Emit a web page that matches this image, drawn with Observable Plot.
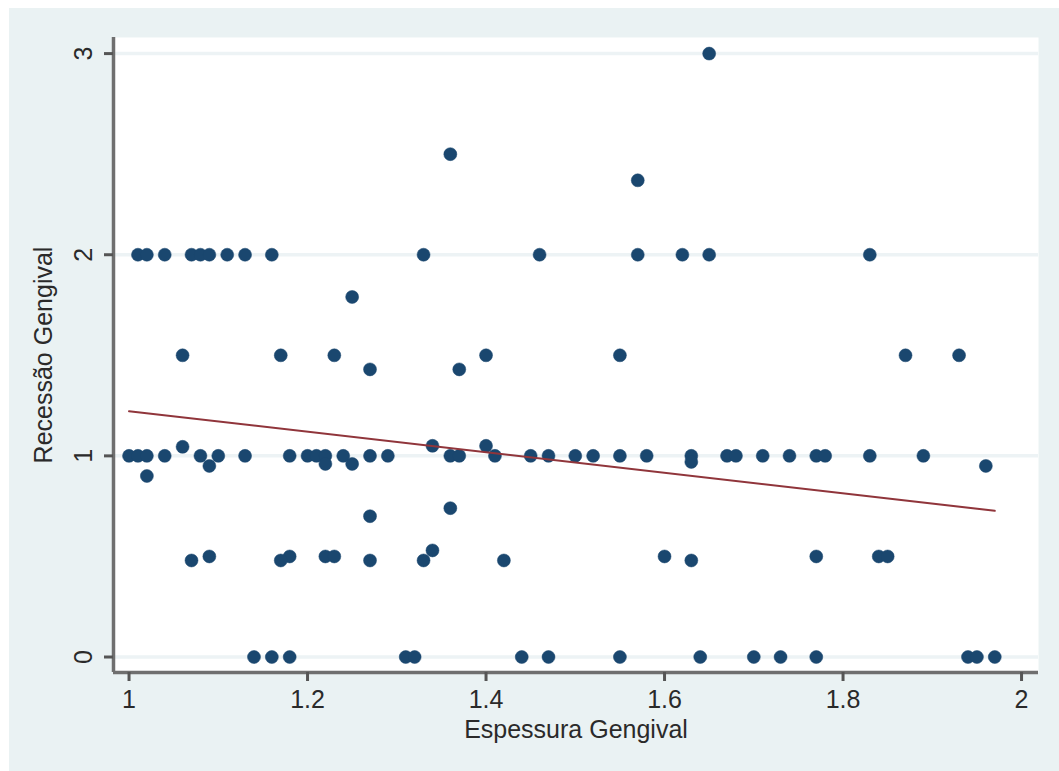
<!DOCTYPE html>
<html>
<head>
<meta charset="utf-8">
<script src="https://cdn.jsdelivr.net/npm/d3@7"></script>
<script src="https://cdn.jsdelivr.net/npm/@observablehq/plot@0.6"></script>
<style>
  html, body { margin: 0; padding: 0; background: #ffffff; }
  #chart { position: absolute; left: 9px; top: 8px; width: 1050px; height: 763px; background: #eaf2f3; }
</style>
</head>
<body>
<div id="chart"></div>
<script>
// Espessura Gengival (x) and Recessão Gengival (y)
const espessura = [
  1.01,1.02,1.04,1.07,1.08,1.09,1.11,1.13,1.16,1.33,1.46,1.57,1.62,1.65,1.83,
  1.65,1.36,1.57,1.25,
  1.06,1.17,1.23,1.40,1.55,1.87,1.93,
  1.27,1.37,1.06,1.34,1.40,
  1.00,1.01,1.02,1.04,1.08,1.10,1.13,1.18,1.20,1.21,1.22,1.24,1.27,1.29,1.36,1.37,
  1.41,1.45,1.47,1.50,1.52,1.55,1.58,1.63,1.67,1.68,1.71,1.74,1.77,1.78,1.83,1.89,
  1.22,1.25,1.63,1.09,1.96,1.02,1.36,1.27,1.34,
  1.09,1.18,1.22,1.23,1.60,1.77,1.84,1.85,
  1.07,1.17,1.27,1.33,1.42,1.63,
  1.14,1.16,1.18,1.31,1.32,1.44,1.47,1.55,1.64,1.70,1.73,1.77,1.94,1.95,1.97
];
const recessao = [
  2,2,2,2,2,2,2,2,2,2,2,2,2,2,2,
  3,2.5,2.37,1.79,
  1.5,1.5,1.5,1.5,1.5,1.5,1.5,
  1.43,1.43,1.045,1.05,1.05,
  1,1,1,1,1,1,1,1,1,1,1,1,1,1,1,1,
  1,1,1,1,1,1,1,1,1,1,1,1,1,1,1,1,
  0.96,0.96,0.97,0.95,0.95,0.9,0.74,0.70,0.53,
  0.5,0.5,0.5,0.5,0.5,0.5,0.5,0.5,
  0.48,0.48,0.48,0.48,0.48,0.48,
  0,0,0,0,0,0,0,0,0,0,0,0,0,0,0
];
// Fitted line end points
const fitX = [1.00, 1.97];
const fitY = [1.222, 0.727];

const xTicks = [1, 1.2, 1.4, 1.6, 1.8, 2];
const yTicks = [0, 1, 2, 3];
const xDomain = [0.9826, 2.019];
const yDomain = [-0.077, 3.08];
const xTitle = "Espessura Gengival";
const yTitle = "Recessão Gengival";

const points = espessura.map((x, i) => ({x, y: recessao[i]}));
const fit = fitX.map((x, i) => ({x, y: fitY[i]}));

const font = "'Liberation Sans', Arial, Helvetica, sans-serif";
const axisGray = "#6f6f6f";
const textColor = "#2a2a2a";

const chart = Plot.plot({
  width: 1050,
  height: 763,
  marginLeft: 104,
  marginRight: 21,
  marginTop: 29,
  marginBottom: 99,
  style: {background: "transparent", fontFamily: font, overflow: "visible"},
  x: {domain: xDomain},
  y: {domain: yDomain},
  marks: [
    Plot.frame({fill: "white", stroke: null}),
    Plot.ruleY(yTicks, {stroke: "#edf3f5", strokeWidth: 3.5}),
    Plot.ruleX([xDomain[0]], {stroke: axisGray, strokeWidth: 3.5}),
    Plot.ruleY([yDomain[0]], {stroke: axisGray, strokeWidth: 3.5}),
    Plot.axisX({ticks: xTicks, tickFormat: d => String(d), tickSize: 9, tickPadding: 9,
      fontSize: 25, stroke: "#555", strokeWidth: 3, fill: textColor, label: null}),
    Plot.axisY({ticks: yTicks, tickFormat: d => String(d), tickSize: 9, tickPadding: 13, tickRotate: -90,
      fontSize: 25, stroke: "#555", strokeWidth: 3, fill: textColor, label: null}),
    Plot.text([xTitle], {frameAnchor: "bottom", dy: 57, textAnchor: "middle", lineAnchor: "middle", fontSize: 25, fill: textColor}),
    Plot.text([yTitle], {frameAnchor: "left", dx: -70, rotate: -90, textAnchor: "middle", lineAnchor: "middle", fontSize: 25, fill: textColor}),
    Plot.dot(points, {x: "x", y: "y", r: 6.5, fill: "#1a476f", stroke: "#1a476f", strokeWidth: 0.5}),
    Plot.line(fit, {x: "x", y: "y", stroke: "#90353b", strokeWidth: 2})
  ]
});
document.getElementById("chart").appendChild(chart);
</script>
</body>
</html>
